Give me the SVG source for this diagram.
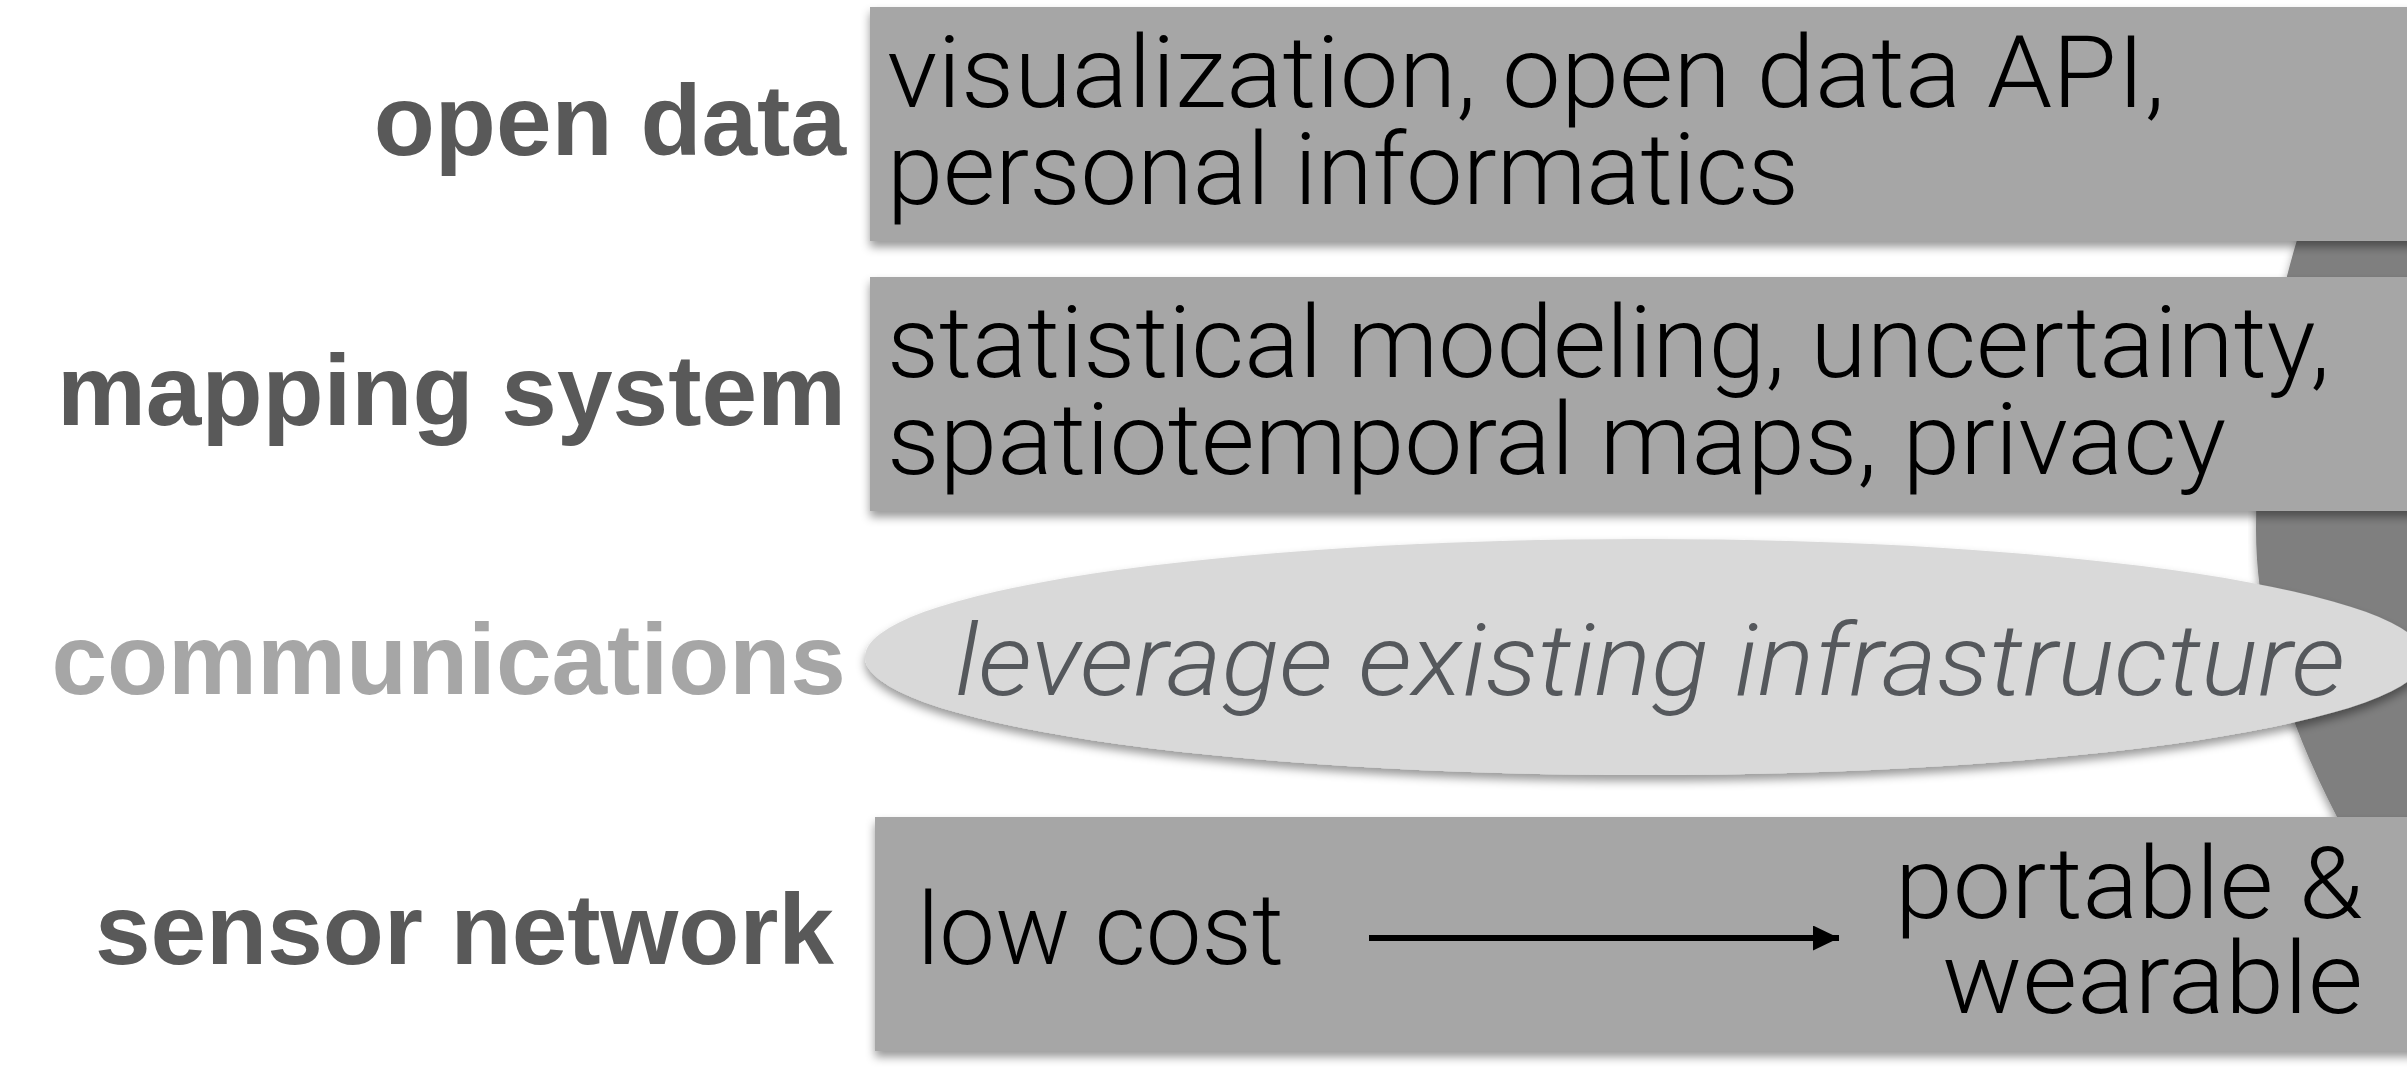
<svg xmlns="http://www.w3.org/2000/svg" width="2407" height="1067" viewBox="0 0 2407 1067">
<defs>
<filter id="sh" x="-5%" y="-20%" width="110%" height="140%">
<feDropShadow dx="0" dy="6" stdDeviation="5" flood-color="#000" flood-opacity="0.4"/>
</filter>
<marker id="ah" markerWidth="26" markerHeight="26" refX="26" refY="12.5" orient="auto" markerUnits="userSpaceOnUse">
<path d="M0,0 L26,12.5 L0,25 Z" fill="#000"/>
</marker>
</defs>
<style>
.lbl{font-family:"Liberation Sans",Arial,sans-serif;font-weight:bold;font-size:100px;fill:#595959;text-anchor:end}
.box{fill:#a6a6a6;filter:url(#sh)}
.txt{font-family:Roboto,"Liberation Sans",sans-serif;font-weight:300;font-size:100px;fill:#000}
.it{font-family:Roboto,"Liberation Sans",sans-serif;font-weight:300;font-style:italic;font-size:100px;fill:#55585c}
</style>
<rect width="2407" height="1067" fill="#fff"/>
<g id="backdrop">
<path d="M2340,100 L2300,230 C2269,330 2256,430 2256,530 C2256,630 2292,730 2337,817 L2380,900 L2407,900 L2407,100 Z" fill="#7f7f7f" filter="url(#sh)"/>
</g>
<g id="open-data">
<text class="lbl" x="846" y="155">open data</text>
<rect class="box" x="870" y="7" width="1560" height="234"/>
<text class="txt" x="887" y="107" textLength="1278" lengthAdjust="spacingAndGlyphs">visualization, open data API,</text>
<text class="txt" x="887" y="204" textLength="912" lengthAdjust="spacingAndGlyphs">personal informatics</text>
</g>
<g id="mapping-system">
<text class="lbl" x="846" y="425">mapping system</text>
<rect class="box" x="870" y="277" width="1560" height="234"/>
<text class="txt" x="887" y="377" textLength="1443" lengthAdjust="spacingAndGlyphs">statistical modeling, uncertainty,</text>
<text class="txt" x="887" y="474" textLength="1339" lengthAdjust="spacingAndGlyphs">spatiotemporal maps, privacy</text>
</g>
<g id="communications">
<text class="lbl" x="846" y="694" style="fill:#a6a6a6">communications</text>
<ellipse cx="1645" cy="657" rx="780" ry="118" fill="#d9d9d9" filter="url(#sh)"/>
<text class="it" x="955" y="695" textLength="1390" lengthAdjust="spacingAndGlyphs">leverage existing infrastructure</text>
</g>
<g id="sensor-network">
<text class="lbl" x="834" y="964">sensor network</text>
<rect class="box" x="875" y="817" width="1560" height="234"/>
<text class="txt" x="917" y="964" textLength="367" lengthAdjust="spacingAndGlyphs">low cost</text>
<text class="txt" x="1895" y="918" textLength="468" lengthAdjust="spacingAndGlyphs">portable &amp;</text>
<text class="txt" x="1942" y="1013" textLength="421" lengthAdjust="spacingAndGlyphs">wearable</text>
</g>
<g id="connectors">
<line x1="1369" y1="938" x2="1839" y2="938" stroke="#000" stroke-width="6" marker-end="url(#ah)"/>
</g>
</svg>
